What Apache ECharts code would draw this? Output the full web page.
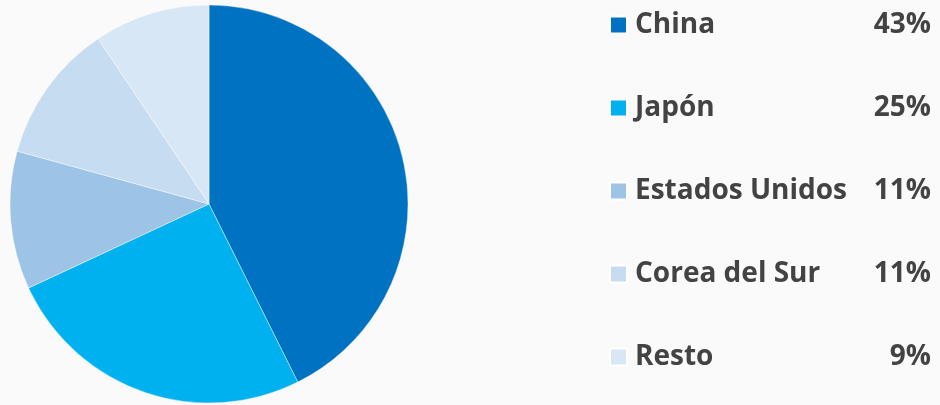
<!DOCTYPE html>
<html>
<head>
<meta charset="utf-8">
<script src="https://cdn.jsdelivr.net/npm/echarts@6/dist/echarts.min.js"></script>
<style>
html,body{margin:0;padding:0;background:#fafafa;}
#c{width:940px;height:405px;}
</style>
</head>
<body>
<div id="c"></div>
<script>
const categories = ["China", "Japón", "Estados Unidos", "Corea del Sur", "Resto"];
const shares = [42.6, 25.4, 11.2, 11.3, 9.4];
const colors = ["#0072c2", "#00b1f0", "#9dc3e6", "#c6dcf1", "#d8e7f6"];

const chart = echarts.init(document.getElementById('c'), null, {renderer: 'canvas'});
const pctOf = {};
categories.forEach((c, i) => { pctOf[c] = Math.round(shares[i]) + '%'; });

chart.setOption({
  backgroundColor: '#fafafa',
  animation: false,
  color: colors,
  legend: {
    orient: 'vertical',
    left: 604,
    top: 6,
    itemWidth: 17,
    itemHeight: 17,
    itemGap: 55,
    icon: 'rect',
    selectedMode: false,
    data: categories,
    formatter: function (name) {
      return '{n|' + name + '}{p|' + pctOf[name] + '}';
    },
    textStyle: {
      rich: {
        n: {fontFamily: 'Open Sans', fontWeight: 'bold', fontSize: 28, color: '#434343', width: 228, lineHeight: 34, padding: [0,0,0,3]},
        p: {fontFamily: 'Open Sans', fontWeight: 'bold', fontSize: 28, color: '#434343', width: 68, align: 'right', lineHeight: 34}
      }
    }
  },
  series: [{
    type: 'pie',
    center: [209, 204],
    radius: 199,
    startAngle: 90,
    clockwise: true,
    label: {show: false},
    labelLine: {show: false},
    emphasis: {disabled: true},
    itemStyle: {borderColor: '#ffffff', borderWidth: 0.4},
    data: categories.map((c, i) => ({name: c, value: shares[i]}))
  }]
});
</script>
</body>
</html>
